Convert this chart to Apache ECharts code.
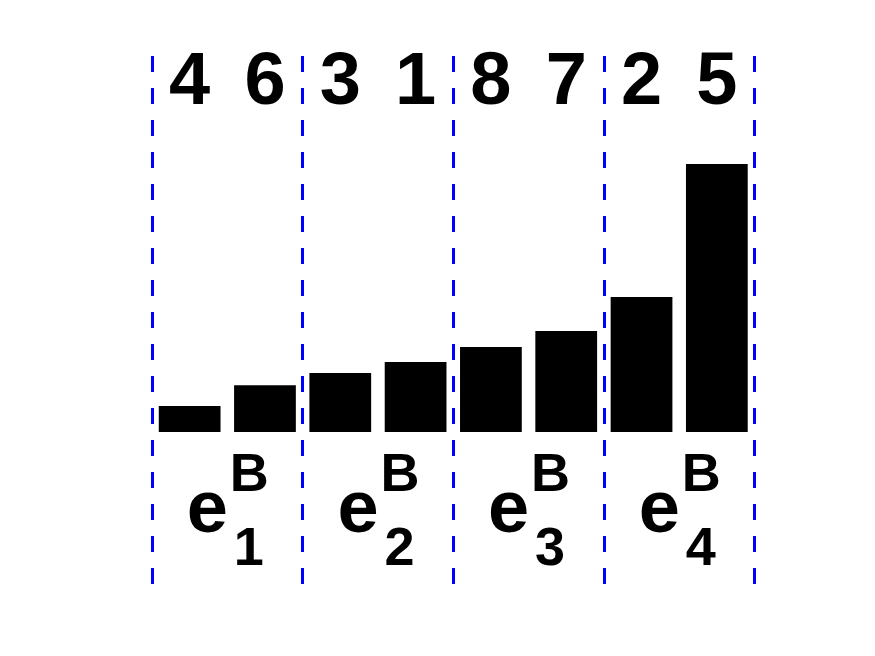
<!DOCTYPE html>
<html>
<head>
<meta charset="utf-8">
<script src="https://cdn.jsdelivr.net/npm/echarts@6/dist/echarts.min.js"></script>
<style>html,body{margin:0;padding:0;background:#fff;}#c{width:875px;height:656px;}</style>
</head>
<body>
<div id="c"></div>
<script>
// Data
var topLabels = ['4', '6', '3', '1', '8', '7', '2', '5'];
var barValues = [0.097, 0.175, 0.220, 0.261, 0.317, 0.377, 0.504, 1.0];
var groupSubs = ['1', '2', '3', '4'];
var groupSup = 'B';
var yMin = -0.567, yMax = 1.403;

var FONT = 'Liberation Sans, Arial, sans-serif';
var chart = echarts.init(document.getElementById('c'), null, {renderer: 'canvas'});
chart.setOption({
  animation: false,
  backgroundColor: '#ffffff',
  grid: {left: 152, right: 120.5, top: 56, bottom: 72, containLabel: false},
  xAxis: [
    {
      type: 'category',
      position: 'top',
      data: topLabels,
      axisLine: {show: false},
      axisTick: {show: false},
      splitLine: {show: false},
      axisLabel: {
        inside: true,
        margin: 28,
        verticalAlign: 'middle',
        interval: 0,
        fontFamily: FONT,
        fontWeight: 'bold',
        fontSize: 74,
        color: '#000'
      }
    },
    {
      type: 'category',
      position: 'bottom',
      data: groupSubs,
      axisLine: {show: false},
      axisTick: {show: false},
      splitLine: {
        show: true,
        interval: 0,
        lineStyle: {color: '#0000ff', width: 3, type: [16, 16]}
      },
      axisLabel: {
        inside: true,
        margin: 8,
        verticalAlign: 'bottom',
        align: 'center',
        interval: 0,
        formatter: function (v) {
          return '{s|}{b|' + groupSup + '}\n{e|e}\n{t|}{n|' + v + '}';
        },
        rich: {
          s: {width: 44, lineHeight: 48, fontSize: 10},
          b: {width: 37, align: 'left', fontFamily: FONT, fontWeight: 'bold', fontSize: 54, lineHeight: 48, color: '#000'},
          e: {width: 81, align: 'left', fontFamily: FONT, fontWeight: 'bold', fontSize: 74, lineHeight: 24, color: '#000'},
          t: {width: 43, lineHeight: 52, fontSize: 10},
          n: {width: 38, align: 'left', fontFamily: FONT, fontWeight: 'bold', fontSize: 54, lineHeight: 52, color: '#000'}
        }
      }
    }
  ],
  yAxis: {
    type: 'value',
    min: yMin,
    max: yMax,
    show: false,
    splitLine: {show: false}
  },
  series: [
    {
      type: 'bar',
      xAxisIndex: 0,
      data: barValues,
      barCategoryGap: '18%',
      itemStyle: {color: '#000000'},
      silent: true
    }
  ]
});
</script>
</body>
</html>
